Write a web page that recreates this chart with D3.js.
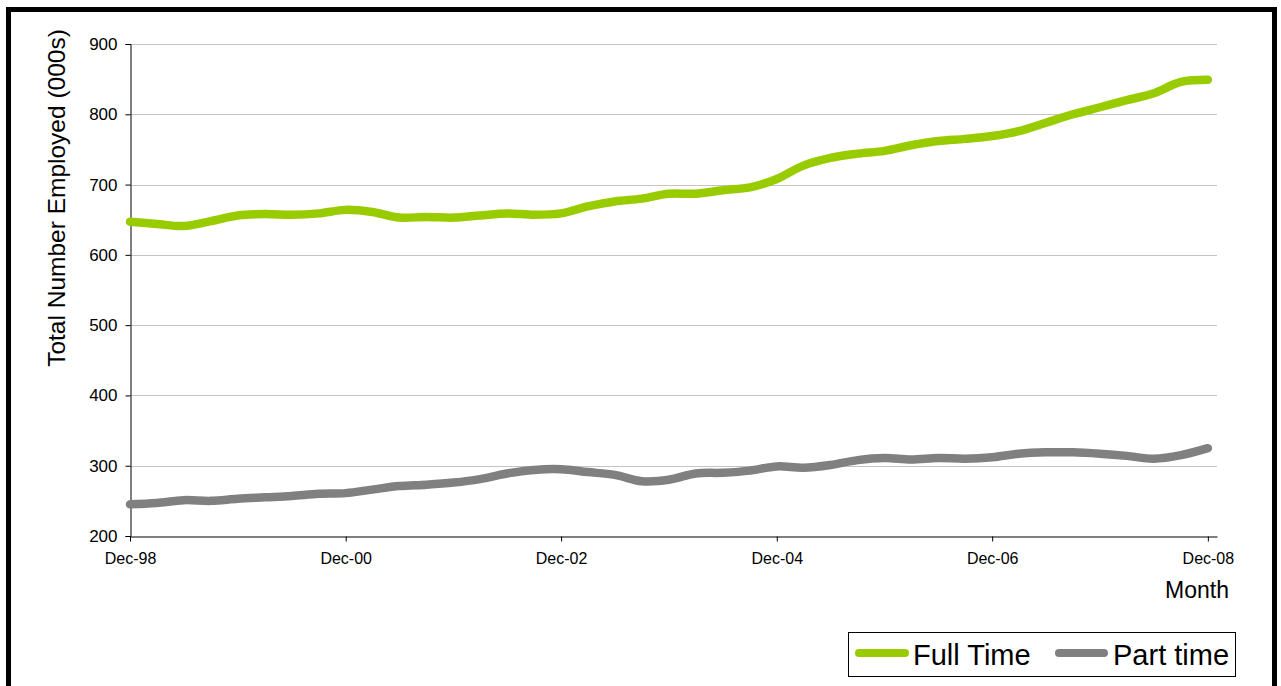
<!DOCTYPE html>
<html>
<head>
<meta charset="utf-8">
<script src="https://cdn.jsdelivr.net/npm/d3@7"></script>
<style>
  html, body { margin: 0; padding: 0; background: #fff; }
  svg { display: block; font-family: "Liberation Sans", Arial, sans-serif; }
</style>
</head>
<body>
<svg id="chart" width="1281" height="686"></svg>
<script>
// Quarterly observations, Dec 1998 – Dec 2008
const quarters = [
  "1998-12", "1999-03", "1999-06", "1999-09",
  "1999-12", "2000-03", "2000-06", "2000-09",
  "2000-12", "2001-03", "2001-06", "2001-09",
  "2001-12", "2002-03", "2002-06", "2002-09",
  "2002-12", "2003-03", "2003-06", "2003-09",
  "2003-12", "2004-03", "2004-06", "2004-09",
  "2004-12", "2005-03", "2005-06", "2005-09",
  "2005-12", "2006-03", "2006-06", "2006-09",
  "2006-12", "2007-03", "2007-06", "2007-09",
  "2007-12", "2008-03", "2008-06", "2008-09",
  "2008-12"
];

// Total employed, thousands
const fullTime = [
  647, 644, 641, 648,
  656, 658, 657, 659,
  664, 661, 653, 654,
  653, 656, 659, 657,
  659, 669, 676, 680,
  687, 687, 692, 696,
  708, 727, 738, 744,
  748, 756, 762, 765,
  769, 776, 788, 800,
  810, 820, 830, 846,
  849
];

const partTime = [
  245, 247, 251, 250,
  253, 255, 257, 260,
  261, 266, 271, 273,
  276, 281, 289, 294,
  295, 291, 287, 278,
  280, 289, 290, 293,
  299, 297, 301, 308,
  311, 309, 311, 310,
  312, 317, 319, 319,
  317, 314, 310, 315,
  325
];

const yTicks = [200, 300, 400, 500, 600, 700, 800, 900];
const xTickLabels = ["1998-12", "2000-12", "2002-12", "2004-12", "2006-12", "2008-12"];

const seriesNames = ["Full Time", "Part time"];
const seriesColors = ["#99cc00", "#808080"];

const parseMonth = d3.timeParse("%Y-%m");
const dates = quarters.map(parseMonth);

const series = [
  { name: seriesNames[0], color: seriesColors[0], values: fullTime },
  { name: seriesNames[1], color: seriesColors[1], values: partTime }
];

const svg = d3.select("#chart");

// Outer frame
svg.append("rect")
  .attr("x", 8.5).attr("y", 9.5)
  .attr("width", 1266).attr("height", 720)
  .attr("fill", "none")
  .attr("stroke", "#000")
  .attr("stroke-width", 5);

const plot = { left: 130, right: 1217, top: 44, bottom: 536 };

const x = d3.scaleTime()
  .domain([parseMonth("1998-12"), parseMonth("2009-01")])
  .range([plot.left, plot.right]);

const y = d3.scaleLinear()
  .domain([200, 900])
  .range([plot.bottom, plot.top]);

// Horizontal gridlines
svg.append("g")
  .selectAll("line")
  .data(yTicks.filter(v => v > 200))
  .join("line")
  .attr("x1", plot.left).attr("x2", plot.right)
  .attr("y1", d => Math.round(y(d)) + 0.5)
  .attr("y2", d => Math.round(y(d)) + 0.5)
  .attr("stroke", "#c4c4c4")
  .attr("stroke-width", 1);

// Y axis
const yAxis = svg.append("g")
  .attr("transform", `translate(${plot.left + 0.5},0)`)
  .call(d3.axisLeft(y).tickValues(yTicks).tickSize(5).tickPadding(8).tickFormat(d3.format("d")));
yAxis.select(".domain").attr("stroke", "#000");
yAxis.selectAll(".tick line").attr("stroke", "#000");
yAxis.selectAll(".tick text")
  .attr("font-size", 17)
  .attr("font-family", "Liberation Sans, Arial, sans-serif")
  .attr("fill", "#000");

// X axis
const xAxis = svg.append("g")
  .attr("transform", `translate(0,${plot.bottom + 0.5})`)
  .call(d3.axisBottom(x)
    .tickValues(xTickLabels.map(parseMonth))
    .tickSize(5)
    .tickSizeOuter(0)
    .tickPadding(11)
    .tickFormat(d3.timeFormat("%b-%y")));
xAxis.select(".domain").attr("stroke", "#000");
xAxis.selectAll(".tick line").attr("stroke", "#000");
xAxis.selectAll(".tick text")
  .attr("font-size", 16)
  .attr("font-family", "Liberation Sans, Arial, sans-serif")
  .attr("fill", "#000");

// Lines
const line = d3.line()
  .x((d, i) => x(dates[i]))
  .y(d => y(d))
  .curve(d3.curveCatmullRom.alpha(0.5));

svg.append("g")
  .selectAll("path")
  .data(series)
  .join("path")
  .attr("d", d => line(d.values))
  .attr("fill", "none")
  .attr("stroke", d => d.color)
  .attr("stroke-width", 8.5)
  .attr("stroke-linecap", "round")
  .attr("stroke-linejoin", "round");

// Axis titles
svg.append("text")
  .attr("transform", "translate(65,198) rotate(-90)")
  .attr("text-anchor", "middle")
  .attr("font-size", 24.5)
  .attr("fill", "#000")
  .text("Total Number Employed (000s)");

svg.append("text")
  .attr("x", 1229).attr("y", 598)
  .attr("text-anchor", "end")
  .attr("font-size", 23)
  .attr("fill", "#000")
  .text("Month");

// Legend
const legend = svg.append("g");
legend.append("rect")
  .attr("x", 848.5).attr("y", 632.5)
  .attr("width", 387).attr("height", 44)
  .attr("fill", "#fff")
  .attr("stroke", "#000")
  .attr("stroke-width", 1);

const legendItems = [
  { x0: 859, x1: 905, tx: 913 },
  { x0: 1059, x1: 1104, tx: 1113 }
];
series.forEach((s, i) => {
  const it = legendItems[i];
  legend.append("line")
    .attr("x1", it.x0).attr("x2", it.x1)
    .attr("y1", 653).attr("y2", 653)
    .attr("stroke", s.color)
    .attr("stroke-width", 8)
    .attr("stroke-linecap", "round");
  legend.append("text")
    .attr("x", it.tx).attr("y", 665)
    .attr("font-size", 29)
    .attr("fill", "#000")
    .text(s.name);
});
</script>
</body>
</html>
